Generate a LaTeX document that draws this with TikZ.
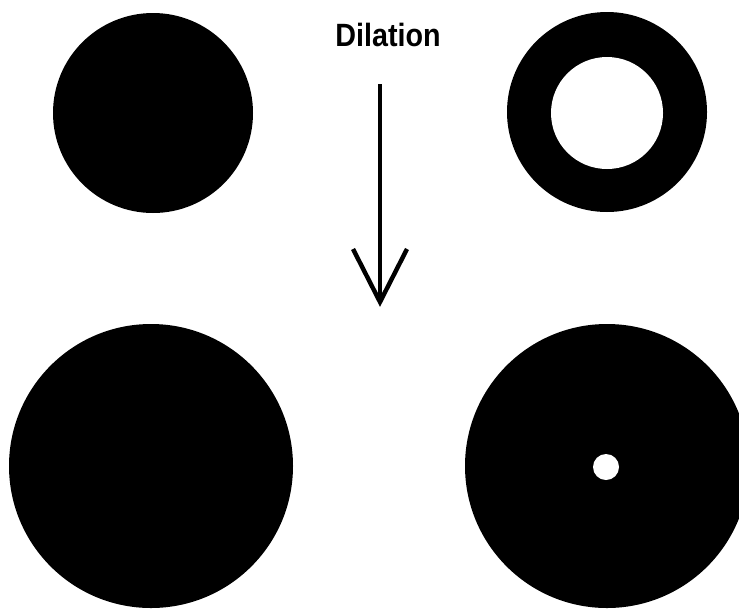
\documentclass[tikz,border=0pt]{standalone}
\usepackage{fontspec}
\setmainfont{Liberation Sans}
\begin{document}
\begin{tikzpicture}[
        x=0.03cm, y=-0.03cm,
        blob/.style={fill=black},
        hole/.style={fill=white},
        ]
        \useasboundingbox (0,0) rectangle (739,612);

        % Original shapes
        \fill[blob] (153,113) circle (100);
        \fill[blob] (607,112) circle (100);
        \fill[hole] (607,113) circle (56);

        % Dilated shapes
        \fill[blob] (151,466) circle (142);
        \fill[blob] (607,466) circle (142);
        \fill[hole] (606,467) circle (13);

        % Label and arrow
        \node[xscale=0.98, yscale=1.1] (dil) at (388,35) {\fontsize{25}{25}\selectfont\bfseries Dilation};
        \coordinate (start) at (380,84);
        \coordinate (tip) at (380,302);
        \coordinate (armL) at (353,249);
        \coordinate (armR) at (407,249);
        \draw[line width=2.8pt] (start) -- (tip);
        \draw[line width=3.8pt, line join=miter] (armL) -- (tip) -- (armR);

    \end{tikzpicture}
\end{document}
